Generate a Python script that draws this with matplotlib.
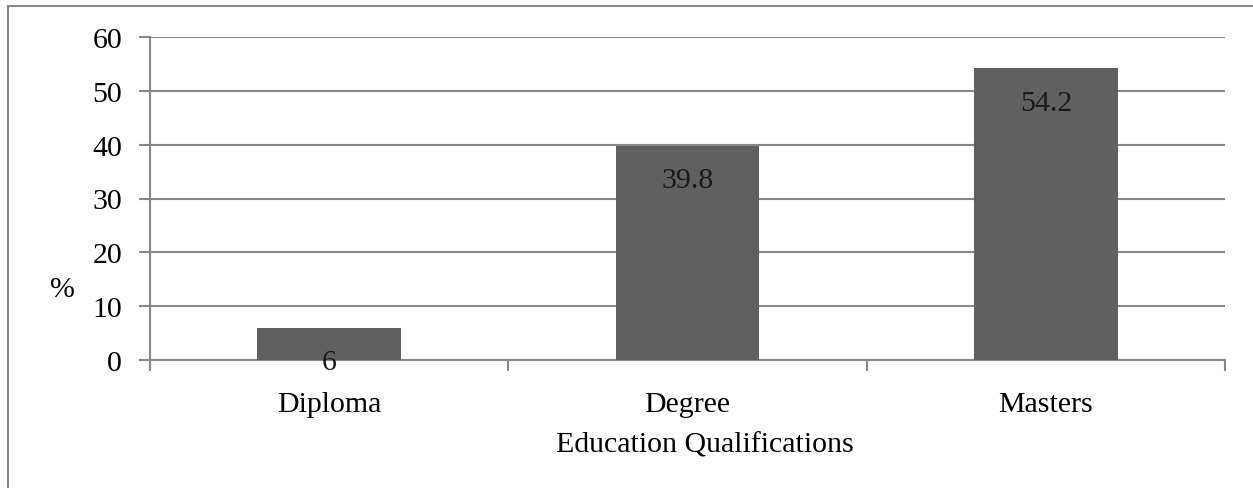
import matplotlib.pyplot as plt
from matplotlib.lines import Line2D

categories = ['Diploma', 'Degree', 'Masters']
values = [6, 39.8, 54.2]
value_labels = ['6', '39.8', '54.2']
y_ticks = [0, 10, 20, 30, 40, 50, 60]

plt.rcParams['font.family'] = ['Liberation Serif', 'DejaVu Serif']
grey = '#888888'
fs = 21.5

fig = plt.figure(figsize=(12.53, 4.89), dpi=100)
ax = fig.add_axes([150 / 1253, 1 - 361 / 489, 1075 / 1253, 323 / 489])

x = range(len(categories))
bars = ax.bar(x, values, width=0.4, color='#606060', zorder=3)

for bar, lab in zip(bars, value_labels):
    ax.annotate(lab, (bar.get_x() + bar.get_width() / 2, bar.get_height()),
                xytext=(0, -25), textcoords='offset points',
                ha='center', va='center', fontsize=fs, color='#1a1a1a', zorder=4)

ax.set_xlim(-0.5, len(categories) - 0.5)
ax.set_ylim(0, 60)
ax.set_yticks(y_ticks)
ax.yaxis.grid(True, color=grey, linewidth=1.5, zorder=0)

# category labels between boundary ticks
ax.set_xticks([i - 0.5 for i in range(len(categories) + 1)])
ax.set_xticklabels([])
ax.set_xticks(list(x), minor=True)
ax.set_xticklabels(categories, minor=True, fontsize=fs)
ax.tick_params(axis='x', which='minor', length=0, pad=22)
ax.tick_params(axis='x', which='major', length=8, width=1.5, color=grey)
ax.tick_params(axis='y', length=8, width=1.5, color=grey, labelsize=fs, pad=12)

for s in ['top', 'right']:
    ax.spines[s].set_visible(False)
for s in ['left', 'bottom']:
    ax.spines[s].set_color(grey)
    ax.spines[s].set_linewidth(1.5)

ax.set_xlabel('Education Qualifications', fontsize=fs, labelpad=11)
ax.xaxis.label.set_x(0.516)
fig.text(62 / 1253, 1 - 290 / 489, '%', fontsize=fs, ha='center', va='center')

# outer chart border (top and left edges)
fig.add_artist(Line2D([8 / 1253, 8 / 1253], [0, 1 - 7 / 489], transform=fig.transFigure, color=grey, lw=1.5))
fig.add_artist(Line2D([8 / 1253, 1], [1 - 7 / 489, 1 - 7 / 489], transform=fig.transFigure, color=grey, lw=1.5))

fig.savefig('out.png', dpi=100)
